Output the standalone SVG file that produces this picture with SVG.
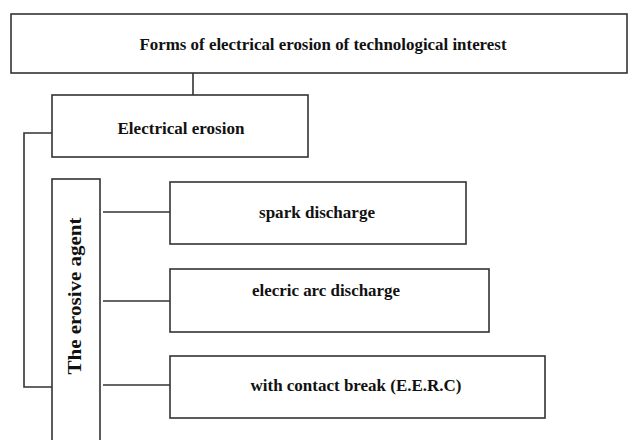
<svg xmlns="http://www.w3.org/2000/svg" width="640" height="440" viewBox="0 0 640 440">
<style>
.box{fill:#fff;stroke:#333;stroke-width:1.6}
.lbl{font-family:"Liberation Serif","Times New Roman",serif;font-weight:bold;font-size:17px;fill:#111;text-anchor:middle}
.con{fill:none;stroke:#333;stroke-width:1.6}
</style>
<rect width="640" height="440" fill="#fff"/>
<g id="connectors">
<path class="con" d="M193,73 V95"/>
<path class="con" d="M52,133 H24 V387 H52"/>
<path class="con" d="M103,212 H170"/>
<path class="con" d="M103,301 H170"/>
<path class="con" d="M103,385 H170"/>
</g>
<g id="n-top">
<rect class="box" x="11" y="14" width="616" height="59"/>
<text class="lbl" x="323" y="50" textLength="367" lengthAdjust="spacingAndGlyphs">Forms of electrical erosion of technological interest</text>
</g>
<g id="n-electrical">
<rect class="box" x="52" y="95" width="256" height="62"/>
<text class="lbl" x="181" y="134" textLength="127" lengthAdjust="spacingAndGlyphs">Electrical erosion</text>
</g>
<g id="n-agent">
<rect class="box" x="52" y="179" width="48" height="270"/>
<text class="lbl" transform="translate(81,296) rotate(-90)" x="0" y="0" textLength="157" lengthAdjust="spacingAndGlyphs" style="font-size:19px">The erosive agent</text>
</g>
<g id="n-spark">
<rect class="box" x="170" y="182" width="296" height="62"/>
<text class="lbl" x="317" y="218" textLength="116" lengthAdjust="spacingAndGlyphs">spark discharge</text>
</g>
<g id="n-arc">
<rect class="box" x="170" y="269" width="319" height="63"/>
<text class="lbl" x="326" y="296" textLength="148" lengthAdjust="spacingAndGlyphs">elecric arc discharge</text>
</g>
<g id="n-contact">
<rect class="box" x="170" y="356" width="375" height="62"/>
<text class="lbl" x="356" y="391" textLength="211" lengthAdjust="spacingAndGlyphs">with contact break (E.E.R.C)</text>
</g>
</svg>
